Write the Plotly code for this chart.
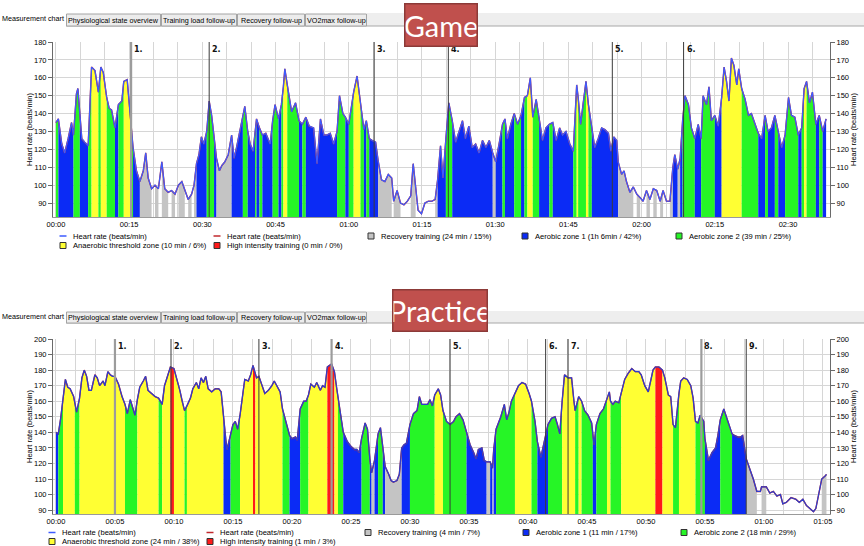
import numpy as np
import plotly.graph_objects as go

W, H = 864, 546

# ---------------- Game session (minutes, beats/min, zone code) ----------------
# zone codes: N none, R recovery, B aerobic 1, G aerobic 2, Y anaerobic threshold, H high intensity
game_t = [
    0.0, 0.5, 1.2, 1.8, 2.5, 3.2, 3.6, 4.2, 4.5, 4.9,
    5.3, 5.9, 6.6, 7.3, 8.0, 8.7, 9.2, 9.7, 10.4, 10.9,
    11.4, 12.1, 12.8, 13.5, 13.9, 14.6, 15.2, 15.8, 16.5, 17.2,
    17.9, 18.4, 18.9, 19.6, 20.3, 21.0, 21.7, 22.3, 23.0, 23.7,
    24.4, 25.1, 25.8, 26.4, 27.1, 27.8, 28.3, 28.8, 29.3, 29.8,
    30.3, 30.9, 31.4, 31.9, 32.4, 32.9, 33.5, 34.0, 34.6, 35.3,
    36.0, 36.5, 37.0, 37.7, 38.3, 38.7, 39.3, 39.8, 40.4, 40.8,
    41.1, 41.7, 42.3, 43.0, 43.9, 44.4, 44.9, 45.6, 46.2, 46.6,
    46.9, 47.4, 48.3, 49.1, 49.8, 50.5, 51.2, 51.9, 52.8, 53.5,
    54.2, 54.9, 55.5, 56.2, 56.9, 57.6, 58.1, 58.8, 59.3, 60.0,
    61.0, 61.7, 62.4, 63.1, 63.6, 64.2, 64.8, 65.5, 66.0, 66.7,
    67.4, 68.1, 68.8, 69.2, 69.9, 70.6, 71.3, 72.0, 72.7, 73.2,
    73.7, 74.2, 74.9, 75.6, 76.3, 77.0, 77.7, 78.2, 78.8, 79.3,
    79.9, 80.5, 81.2, 81.9, 82.6, 83.3, 83.9, 84.6, 85.3, 86.0,
    86.7, 87.4, 88.1, 88.8, 89.5, 90.1, 90.8, 91.5, 92.0, 92.5,
    93.2, 93.9, 94.6, 95.3, 96.0, 96.6, 97.2, 97.7, 98.4, 99.0,
    99.7, 100.4, 101.1, 101.8, 102.5, 103.2, 103.8, 104.5, 105.3, 106.0,
    106.7, 107.0, 107.5, 108.0, 108.6, 109.1, 109.8, 110.4, 111.1, 111.8,
    112.5, 113.2, 113.7, 114.3, 114.9, 115.2, 115.9, 116.4, 116.9, 117.6,
    118.3, 119.0, 119.7, 120.3, 121.0, 121.7, 122.4, 123.1, 123.8, 124.4,
    125.1, 125.8, 126.4, 126.8, 127.4, 127.9, 128.4, 128.9, 129.6, 130.2,
    130.9, 131.6, 132.2, 132.6, 133.3, 133.8, 134.3, 135.0, 135.7, 136.4,
    136.9, 137.4, 137.9, 138.4, 138.9, 139.5, 139.9, 140.5, 141.2, 141.9,
    142.5, 143.2, 143.9, 144.6, 145.3, 145.9, 146.6, 147.3, 148.0, 148.7,
    149.4, 150.1, 150.7, 151.4, 152.1, 152.8, 153.3, 153.8, 154.4, 155.0,
    155.7, 156.4, 157.1, 157.8,
]
game_hr = [
    135, 137, 123, 118, 126, 135, 128, 151, 154, 141,
    126, 124, 122, 166, 164, 152, 166, 163, 149, 143,
    142, 132, 145, 147, 158, 159, 139, 121, 108, 102,
    108, 118, 104, 98, 100, 98, 113, 98, 96, 97,
    95, 100, 102, 97, 92, 95, 100, 112, 117, 127,
    123, 130, 147, 139, 126, 115, 108, 111, 113, 117,
    128, 115, 121, 130, 137, 144, 130, 123, 119, 130,
    137, 132, 128, 129, 123, 136, 145, 137, 145, 155,
    165, 156, 141, 146, 136, 134, 138, 133, 132, 112,
    137, 128, 128, 129, 123, 130, 150, 140, 138, 134,
    152, 161, 145, 131, 136, 126, 125, 124, 114, 103,
    102, 106, 104, 91, 97, 90, 89, 91, 94, 112,
    99, 86, 84, 90, 91, 91, 92, 103, 122, 104,
    126, 146, 136, 124, 130, 136, 126, 133, 121, 123,
    118, 125, 121, 125, 118, 113, 123, 134, 137, 126,
    134, 140, 134, 139, 149, 150, 160, 138, 148, 138,
    125, 132, 134, 135, 125, 132, 128, 130, 123, 119,
    156, 149, 134, 145, 158, 145, 132, 121, 126, 132,
    131, 129, 119, 127, 125, 113, 106, 108, 102, 96,
    99, 95, 93, 91, 97, 92, 98, 97, 91, 97,
    91, 91, 110, 117, 109, 115, 136, 150, 145, 132,
    126, 134, 126, 150, 145, 155, 136, 139, 133, 149,
    166, 158, 147, 171, 167, 156, 165, 154, 148, 139,
    140, 134, 129, 126, 139, 130, 132, 139, 130, 121,
    128, 149, 139, 138, 128, 132, 154, 158, 146, 152,
    134, 139, 130, 137,
]
game_zone = [
    "G", "B", "B", "B", "B", "B", "G", "G", "G", "B",
    "B", "B", "G", "Y", "Y", "G", "Y", "Y", "G", "G",
    "G", "B", "G", "G", "Y", "Y", "G", "B", "B", "R",
    "R", "R", "R", "N", "R", "N", "R", "R", "N", "R",
    "N", "R", "R", "N", "R", "N", "R", "B", "B", "B",
    "B", "G", "G", "G", "B", "R", "R", "R", "R", "R",
    "B", "B", "B", "B", "G", "G", "B", "B", "B", "G",
    "B", "G", "B", "B", "B", "G", "G", "B", "G", "Y",
    "Y", "G", "G", "G", "B", "G", "B", "B", "B", "B",
    "B", "B", "B", "B", "B", "G", "G", "G", "B", "G",
    "Y", "Y", "G", "B", "G", "B", "B", "B", "R", "R",
    "R", "R", "N", "R", "R", "N", "N", "N", "R", "R",
    "N", "N", "N", "N", "N", "N", "R", "B", "B", "B",
    "G", "G", "B", "B", "B", "B", "B", "B", "B", "B",
    "B", "B", "B", "B", "R", "B", "B", "G", "B", "B",
    "B", "G", "G", "B", "G", "Y", "Y", "G", "G", "B",
    "B", "B", "G", "B", "B", "B", "B", "B", "B", "G",
    "Y", "G", "G", "G", "Y", "G", "B", "B", "B", "B",
    "B", "B", "B", "B", "B", "R", "R", "R", "R", "R",
    "N", "R", "N", "N", "R", "N", "R", "N", "R", "N",
    "N", "R", "B", "B", "R", "B", "G", "G", "G", "G",
    "B", "B", "G", "G", "G", "G", "G", "B", "B", "Y",
    "Y", "Y", "Y", "Y", "Y", "Y", "Y", "G", "G", "G",
    "G", "G", "B", "B", "G", "B", "B", "G", "B", "B",
    "G", "G", "G", "G", "B", "G", "Y", "G", "G", "G",
    "B", "G", "B", "B",
]
game_marks = [15.4, 31.4, 65.2, 80.4, 114.0, 128.6]
game_tick_min = [0, 15, 30, 45, 60, 75, 90, 105, 120, 135, 150]
game_tick_text = ["00:00", "00:15", "00:30", "00:45", "01:00", "01:15",
                  "01:30", "01:45", "02:00", "02:15", "02:30"]
game_legend = ["Heart rate (beats/min)", "Heart rate (beats/min)",
               "Recovery training (24 min / 15%)", "Aerobic zone 1 (1h 6min / 42%)",
               "Aerobic zone 2 (39 min / 25%)", "Anaerobic threshold zone (10 min / 6%)",
               "High intensity training (0 min / 0%)"]

# ---------------- Practice session ----------------
prac_t = [
    0.0, 0.2, 0.4, 0.6, 0.8, 1.0, 1.2, 1.5, 1.6, 1.75,
    2.0, 2.2, 2.4, 2.6, 2.8, 3.0, 3.3, 3.5, 3.7, 4.0,
    4.15, 4.4, 4.6, 4.8, 5.0, 5.3, 5.6, 5.85, 6.05, 6.3,
    6.5, 6.7, 6.9, 7.1, 7.4, 7.6, 7.8, 8.1, 8.4, 8.7,
    9.0, 9.2, 9.5, 9.7, 10.0, 10.2, 10.5, 10.7, 10.9, 11.1,
    11.4, 11.6, 11.9, 12.1, 12.3, 12.5, 12.7, 12.9, 13.2, 13.5,
    13.8, 14.0, 14.2, 14.4, 14.5, 14.8, 15.0, 15.2, 15.4, 15.6,
    15.8, 16.0, 16.3, 16.5, 16.7, 16.9, 17.0, 17.2, 17.4, 17.7,
    18.0, 18.3, 18.5, 18.8, 19.0, 19.2, 19.5, 19.8, 20.0, 20.3,
    20.45, 20.7, 21.0, 21.2, 21.4, 21.6, 21.9, 22.1, 22.4, 22.6,
    22.8, 23.0, 23.36, 23.6, 23.8, 23.9, 24.2, 24.35, 24.7, 25.0,
    25.3, 25.5, 25.7, 25.9, 26.2, 26.4, 26.6, 26.75, 27.0, 27.3,
    27.5, 27.7, 27.9, 28.2, 28.4, 28.6, 28.9, 29.1, 29.3, 29.5,
    29.7, 30.0, 30.3, 30.6, 30.8, 31.0, 31.3, 31.5, 31.7, 31.9,
    32.1, 32.4, 32.6, 32.8, 33.1, 33.4, 33.7, 33.9, 34.2, 34.5,
    34.8, 35.1, 35.4, 35.6, 35.8, 36.1, 36.3, 36.5, 36.8, 37.0,
    37.1, 37.3, 37.7, 38.0, 38.2, 38.4, 38.6, 38.9, 39.2, 39.5,
    39.8, 40.1, 40.3, 40.6, 40.8, 41.1, 41.3, 41.5, 41.7, 42.0,
    42.3, 42.5, 42.7, 42.9, 43.1, 43.4, 43.7, 43.9, 44.0, 44.3,
    44.55, 44.8, 45.1, 45.4, 45.5, 45.6, 45.8, 46.1, 46.4, 46.7,
    46.9, 47.0, 47.2, 47.4, 47.7, 47.9, 48.2, 48.5, 48.8, 49.1,
    49.4, 49.6, 49.9, 50.2, 50.4, 50.6, 50.8, 51.1, 51.4, 51.6,
    51.9, 52.1, 52.3, 52.5, 52.8, 52.95, 53.2, 53.5, 53.8, 54.0,
    54.2, 54.4, 54.6, 54.9, 55.0, 55.3, 55.6, 55.9, 56.1, 56.3,
    56.6, 56.9, 57.2, 57.3, 57.5, 57.8, 58.0, 58.2, 58.5, 58.8,
    59.1, 59.4, 59.7, 59.8, 60.2, 60.5, 60.8, 61.1, 61.4, 61.6,
    61.9, 62.3, 62.7, 63.0, 63.3, 63.6, 63.9, 64.2, 64.4, 64.7,
    64.9, 65.2, 65.3,
]
prac_hr = [
    140, 139, 149, 161, 174, 169, 168, 163, 158, 153,
    162, 175, 180, 176, 167, 167, 177, 175, 170, 173,
    170, 179, 177, 176, 176, 171, 163, 158, 152, 161,
    156, 151, 161, 169, 173, 176, 167, 165, 163, 162,
    158, 170, 178, 182, 181, 176, 167, 160, 154, 157,
    162, 168, 172, 168, 175, 172, 176, 168, 166, 168,
    168, 166, 149, 135, 129, 138, 145, 147, 142, 151,
    164, 174, 173, 177, 183, 178, 175, 176, 172, 165,
    167, 170, 173, 169, 166, 155, 147, 138, 136, 137,
    135, 155, 160, 160, 164, 171, 169, 172, 167, 170,
    169, 182, 184, 179, 168, 163, 149, 140, 134, 131,
    129, 129, 127, 136, 146, 142, 123, 114, 122, 139,
    143, 130, 118, 113, 109, 108, 109, 113, 130, 132,
    133, 145, 152, 154, 163, 158, 158, 158, 161, 157,
    164, 168, 164, 154, 147, 145, 147, 150, 152, 148,
    140, 132, 127, 123, 129, 130, 122, 121, 121, 117,
    129, 142, 150, 158, 148, 153, 160, 165, 170, 172,
    171, 165, 160, 147, 134, 124, 131, 137, 145, 149,
    150, 145, 139, 160, 177, 175, 175, 160, 154, 163,
    160, 154, 151, 146, 138, 132, 145, 152, 155, 162,
    166, 160, 158, 160, 159, 165, 174, 178, 181, 179,
    179, 177, 170, 166, 173, 180, 182, 182, 180, 175,
    164, 163, 145, 143, 165, 173, 175, 174, 170, 162,
    147, 146, 151, 147, 136, 122, 127, 130, 138, 148,
    155, 148, 140, 139, 138, 137, 137, 138, 123, 117,
    110, 102, 102, 105, 105, 101, 102, 99, 100, 94,
    95, 98, 97, 95, 97, 93, 91, 89, 91, 104,
    110, 112, 113,
]
prac_zone = [
    "B", "G", "G", "Y", "Y", "Y", "Y", "Y", "G", "G",
    "Y", "Y", "Y", "Y", "Y", "Y", "Y", "Y", "Y", "Y",
    "Y", "Y", "Y", "Y", "Y", "Y", "Y", "G", "G", "G",
    "G", "G", "Y", "Y", "Y", "Y", "Y", "Y", "Y", "G",
    "Y", "Y", "Y", "H", "Y", "Y", "Y", "Y", "G", "Y",
    "Y", "Y", "Y", "Y", "Y", "Y", "Y", "Y", "Y", "Y",
    "Y", "Y", "B", "B", "B", "G", "G", "G", "G", "Y",
    "Y", "Y", "Y", "Y", "H", "Y", "Y", "Y", "Y", "Y",
    "Y", "Y", "Y", "Y", "Y", "G", "G", "B", "B", "B",
    "B", "G", "G", "G", "Y", "Y", "Y", "Y", "Y", "Y",
    "Y", "H", "H", "Y", "Y", "G", "G", "B", "B", "B",
    "B", "B", "B", "G", "G", "G", "B", "R", "B", "G",
    "G", "B", "R", "R", "R", "R", "R", "R", "B", "B",
    "B", "G", "G", "G", "G", "G", "G", "G", "G", "G",
    "Y", "Y", "Y", "G", "G", "G", "G", "G", "G", "G",
    "B", "B", "B", "B", "B", "B", "B", "R", "B", "R",
    "B", "G", "G", "G", "G", "G", "G", "Y", "Y", "Y",
    "Y", "Y", "G", "G", "B", "B", "B", "B", "G", "G",
    "G", "G", "G", "Y", "Y", "Y", "Y", "Y", "G", "Y",
    "G", "G", "G", "G", "B", "B", "G", "G", "G", "Y",
    "Y", "G", "G", "G", "G", "Y", "Y", "Y", "Y", "Y",
    "Y", "Y", "Y", "Y", "Y", "Y", "H", "H", "Y", "Y",
    "Y", "Y", "G", "G", "Y", "Y", "Y", "Y", "Y", "Y",
    "G", "G", "G", "G", "B", "B", "B", "B", "B", "G",
    "G", "G", "G", "B", "B", "B", "B", "B", "R", "R",
    "R", "N", "N", "R", "N", "N", "N", "N", "N", "N",
    "N", "N", "N", "N", "N", "N", "N", "N", "N", "N",
    "R", "R", "R",
]
prac_marks = [5.0, 9.75, 17.2, 23.36, 33.4, 41.5, 43.4, 54.7, 58.5]
prac_tick_min = [0, 5, 10, 15, 20, 25, 30, 35, 40, 45, 50, 55, 60, 65]
prac_tick_text = ["00:00", "00:05", "00:10", "00:15", "00:20", "00:25", "00:30",
                  "00:35", "00:40", "00:45", "00:50", "00:55", "01:00", "01:05"]
prac_legend = ["Heart rate (beats/min)", "Heart rate (beats/min)",
               "Recovery training (4 min / 7%)", "Aerobic zone 1 (11 min / 17%)",
               "Aerobic zone 2 (18 min / 29%)", "Anaerobic threshold zone (24 min / 38%)",
               "High intensity training (1 min / 3%)"]

tab_labels = ["Measurement chart", "Physiological state overview",
              "Training load follow-up", "Recovery follow-up", "VO2max follow-up"]

ZONE_COLORS = {"R": "#c4c4c4", "B": "#0b2bf5", "G": "#26f526", "Y": "#ffff33", "H": "#ff1a1a"}
HR_BLUE = "#3d5bff"
HR_RED = "#c0282d"
FONT = "Liberation Sans"


def px(x):
    return x / W


def py(y):
    return 1 - y / H


fig = go.Figure()


def add_session(t, hr, zone, xa, ya, ya_right, line_col):
    n = len(t)
    i = 0
    while i < n - 1:
        j = i
        while j + 1 < n - 1 and zone[j + 1] == zone[i]:
            j += 1
        if zone[i] != "N":
            fig.add_trace(go.Scatter(
                x=t[i:j + 2], y=hr[i:j + 2], fill="tozeroy", mode="none",
                fillcolor=ZONE_COLORS[zone[i]], xaxis=xa, yaxis=ya,
                showlegend=False, hoverinfo="skip"))
        i = j + 1
    fig.add_trace(go.Scatter(x=t, y=hr, mode="lines", line=dict(color=HR_RED, width=1.4),
                             xaxis=xa, yaxis=ya, showlegend=False, hoverinfo="skip"))
    fig.add_trace(go.Scatter(x=t, y=hr, mode="lines", line=dict(color=line_col, width=1.2),
                             xaxis=xa, yaxis=ya_right, showlegend=False))


add_session(game_t, game_hr, game_zone, "x", "y", "y2", HR_BLUE)
add_session(prac_t, prac_hr, prac_zone, "x2", "y3", "y4", "#2a3fd0")

shapes = []
annotations = []


def grid_ticks(step, end, tick_min, tick_text):
    vals = list(np.arange(0, end + 1e-6, step))
    lookup = {m: s for m, s in zip(tick_min, tick_text)}
    text = [lookup.get(int(round(v)), "") if abs(v - round(v)) < 1e-6 else "" for v in vals]
    return vals, text


tick_font = dict(family=FONT, size=7.5, color="#000")
title_font = dict(family=FONT, size=7.5, color="#000")


def axes(xrange, yrange, ydom, gstep, gend, tick_min, tick_text):
    vals, text = grid_ticks(gstep, gend, tick_min, tick_text)
    xa = dict(domain=[px(53), px(830)], range=xrange, autorange=False, tickmode="array",
              tickvals=vals, ticktext=text, showgrid=True, gridcolor="#d6d6d6", gridwidth=1,
              showline=True, linecolor="#9a9a9a", ticks="", zeroline=False,
              tickfont=tick_font, fixedrange=True)
    ya = dict(domain=ydom, range=yrange, autorange=False, tickmode="linear", tick0=0, dtick=10,
              showgrid=True, gridcolor="#d6d6d6", showline=True, linecolor="#6a6a6a",
              ticks="outside", ticklen=4, tickcolor="#6a6a6a", zeroline=False,
              tickfont=tick_font,
              title=dict(text="Heart rate (beats/min)", font=title_font, standoff=0),
              fixedrange=True)
    yr = dict(range=yrange, autorange=False, tickmode="linear", tick0=0, dtick=10,
              showgrid=False, side="right", showline=True, linecolor="#6a6a6a",
              ticks="outside", ticklen=4, tickcolor="#6a6a6a", zeroline=False,
              tickfont=tick_font,
              title=dict(text="Heart rate (beats/min)", font=title_font, standoff=0),
              fixedrange=True)
    return xa, ya, yr


xa1, ya1, yr1 = axes([-0.6, 158.6], [82.2, 180], [py(217), py(42)], 5, 158, game_tick_min, game_tick_text)
xa2, ya2, yr2 = axes([-0.25, 65.6], [87.5, 200], [py(514), py(339)], 5 / 3, 65.6, prac_tick_min, prac_tick_text)
xa1["anchor"] = "y"
ya1["anchor"] = "x"
yr1.update(anchor="x", overlaying="y")
xa2["anchor"] = "y3"
ya2["anchor"] = "x2"
yr2.update(anchor="x2", overlaying="y3")


# event markers
def add_marks(marks, xref, yref, faint):
    for k, m in enumerate(marks, start=1):
        soft = k in faint
        shapes.append(dict(type="line", xref=xref, yref=yref + " domain", x0=m, x1=m, y0=0, y1=1,
                           line=dict(color="#9c9c9c" if soft else "#3a3a3a", width=2.2 if soft else 1),
                           layer="above"))
        annotations.append(dict(xref=xref, yref=yref + " domain", x=m, y=1, xanchor="left",
                                yanchor="top", xshift=1, yshift=-1, showarrow=False,
                                text="<b>%d.</b>" % k,
                                font=dict(family="DejaVu Sans", size=8, color="#111")))


add_marks(game_marks, "x", "y", {1})
add_marks(prac_marks, "x2", "y3", {1, 4, 8})


# tab strips
def add_tabs(top, bottom, text_sel_y, text_y):
    edges = [0, 66, 161, 237, 305, 367]
    shapes.append(dict(type="rect", xref="paper", yref="paper", x0=px(367), x1=1,
                       y0=py(bottom), y1=py(top), fillcolor="#eeeeee", line=dict(width=0)))
    shapes.append(dict(type="line", xref="paper", yref="paper", x0=px(66), x1=1,
                       y0=py(bottom), y1=py(bottom), line=dict(color="#a8a8a8", width=1)))
    for k, lab in enumerate(tab_labels):
        x0, x1 = edges[k], edges[k + 1]
        if k > 0:
            shapes.append(dict(type="rect", xref="paper", yref="paper", x0=px(x0 + 0.5),
                               x1=px(x1 - 0.5), y0=py(bottom), y1=py(top + 1),
                               fillcolor="#ececec", line=dict(color="#a4a4a4", width=1)))
        annotations.append(dict(xref="paper", yref="paper", x=px((x0 + x1) / 2),
                                y=py(text_sel_y if k == 0 else text_y), showarrow=False,
                                xanchor="center", yanchor="middle",
                                text=lab, font=dict(family=FONT, size=7.2, color="#000")))


add_tabs(13, 26, 19, 20.5)
add_tabs(311, 323, 316, 317.5)


# legends
def add_legend(labels, cx0, dx, row_y):
    kinds = [("line", HR_BLUE), ("line", HR_RED), ("sq", ZONE_COLORS["R"]),
             ("sq", ZONE_COLORS["B"]), ("sq", ZONE_COLORS["G"]),
             ("sq", ZONE_COLORS["Y"]), ("sq", ZONE_COLORS["H"])]
    for k, (lab, (kind, col)) in enumerate(zip(labels, kinds)):
        row, c = (0, k) if k < 5 else (1, k - 5)
        cx, cy = cx0 + dx * c, row_y[row]
        if kind == "line":
            shapes.append(dict(type="line", xref="paper", yref="paper", x0=px(cx - 3.5),
                               x1=px(cx + 3.5), y0=py(cy), y1=py(cy), line=dict(color=col, width=1.5)))
        else:
            shapes.append(dict(type="rect", xref="paper", yref="paper", x0=px(cx - 3),
                               x1=px(cx + 3), y0=py(cy + 3), y1=py(cy - 3), fillcolor=col,
                               line=dict(color="#333", width=1)))
        annotations.append(dict(xref="paper", yref="paper", x=px(cx + 8), y=py(cy),
                                xanchor="left", yanchor="middle", showarrow=False, text=lab,
                                font=dict(family=FONT, size=7.6, color="#000")))


add_legend(game_legend, 63, 154, [236, 245.5])
add_legend(prac_legend, 52, 158, [532.5, 541.5])

# session labels
for lab, cx, cy, w, h in [("Game", 441, 25, 71, 41), ("Practice", 440, 310.5, 93, 40)]:
    annotations.append(dict(xref="paper", yref="paper", x=px(cx), y=py(cy), showarrow=False,
                            xanchor="center", yanchor="middle",
                            text=lab, width=w, height=h, borderpad=0, borderwidth=1.5,
                            bgcolor="#c0504d", bordercolor="#8c3a38", valign="middle",
                            font=dict(family="Lato", size=29, color="#ffffff")))

fig.update_layout(
    width=W, height=H, margin=dict(l=0, r=0, t=0, b=0, pad=0), autosize=False,
    paper_bgcolor="#ffffff", plot_bgcolor="#ffffff", template="none",
    showlegend=False, xaxis=xa1, yaxis=ya1, yaxis2=yr1,
    xaxis2=xa2, yaxis3=ya2, yaxis4=yr2,
    shapes=shapes, annotations=annotations,
    font=dict(family=FONT, size=8, color="#000"),
)

fig.write_html("out.html", config={"displayModeBar": False},
               post_script="document.body.style.margin='0';")
